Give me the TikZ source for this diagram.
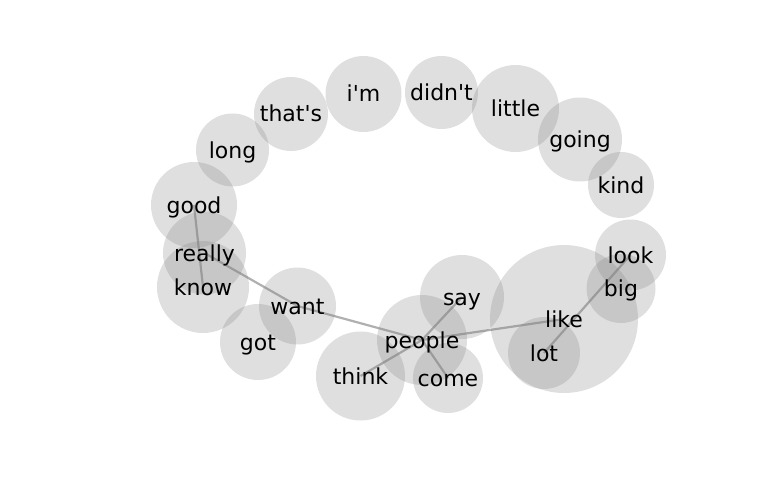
\documentclass[tikz,border=0pt]{standalone}
\usepackage{fontspec}
\newfontfamily\wf{DejaVu Sans}
\tikzset{
  bubble/.style={circle, fill=gray, fill opacity=0.25, draw=none, inner sep=0pt},
  word/.style={inner sep=0pt, text height=18pt, text depth=2pt, font=\wf\fontsize{22}{26}\selectfont, text=black},
  link/.style={draw=black!50, draw opacity=0.62, line width=2.2pt}
}
\begin{document}
\begin{tikzpicture}[x=1pt,y=-1pt]
\useasboundingbox (0,0) rectangle (768,500);
\foreach \n/\x/\y/\r in {good/194/205/43, really/204.5/253/41.5, know/203/287/46, want/297.5/306/38.5, got/258/342/38, long/232.5/150/36.5, thats/291/114/37, im/363.5/94/38, didnt/441.5/92.5/36.5, little/515.5/108.5/43.5, going/580/139.5/42, kind/621/185/33, say/462/297/42, people/422/340/45, think/360.5/376/44.5, come/448/378/35, like/564/319/74, lot/544/353/36, big/621/288.5/34.5, look/630.5/255/35.5}
  {\node[bubble, minimum size=\r*2pt] (b-\n) at (\x,\y) {};}
% edges
\draw[link] (b-good.center) -- (b-know.center);
\draw[link] (b-really.center) -- (b-want.center);
\draw[link] (b-want.center) -- (b-people.center);
\draw[link] (b-think.center) -- (b-people.center);
\draw[link] (b-people.center) -- (b-say.center);
\draw[link] (b-people.center) -- (b-come.center);
\draw[link] (b-people.center) -- (b-like.center);
\draw[link] (b-lot.center) -- (b-look.center);
% labels
\node[word] (good) at (b-good) {good};
\node[word] (really) at (b-really) {really};
\node[word] (know) at (b-know) {know};
\node[word] (want) at (b-want) {want};
\node[word] (got) at (b-got) {got};
\node[word] (long) at (b-long) {long};
\node[word] (thats) at (b-thats) {that's};
\node[word] (im) at (b-im) {i'm};
\node[word] (didnt) at (b-didnt) {didn't};
\node[word] (little) at (b-little) {little};
\node[word] (going) at (b-going) {going};
\node[word] (kind) at (b-kind) {kind};
\node[word] (say) at (b-say) {say};
\node[word] (people) at (b-people) {people};
\node[word] (think) at (b-think) {think};
\node[word] (come) at (b-come) {come};
\node[word] (like) at (b-like) {like};
\node[word] (lot) at (b-lot) {lot};
\node[word] (big) at (b-big) {big};
\node[word] (look) at (b-look) {look};
\end{tikzpicture}
\end{document}
